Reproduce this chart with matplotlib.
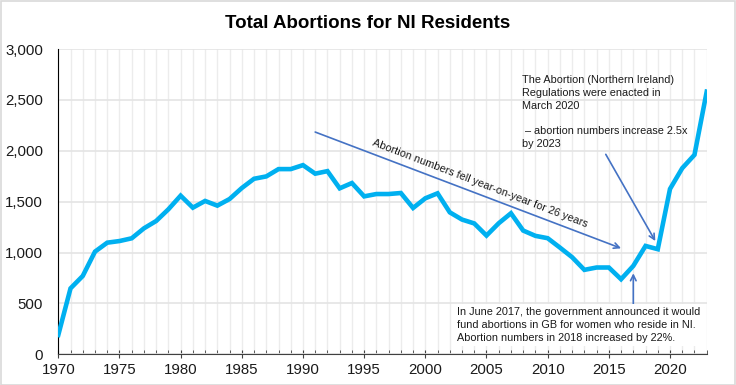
import numpy as np
import matplotlib.pyplot as plt
from matplotlib.ticker import MultipleLocator, FuncFormatter
from matplotlib.patches import Rectangle

plt.rcParams['font.family'] = ['Liberation Sans', 'DejaVu Sans']

# Data
years = list(range(1970, 2024))
abortions = [190, 648, 770, 1009, 1097, 1113, 1140, 1238, 1310, 1425,
             1559, 1441, 1507, 1461, 1526, 1634, 1725, 1748, 1820, 1820,
             1859, 1775, 1800, 1631, 1683, 1552, 1575, 1575, 1585, 1438,
             1533, 1582, 1395, 1324, 1286, 1167, 1288, 1386, 1216, 1164,
             1141, 1049, 954, 830, 853, 853, 738, 869, 1065, 1033,
             1625, 1829, 1960, 2581]

title = 'Total Abortions for NI Residents'
trend_text = 'Abortion numbers fell year-on-year for 26 years'
note_2017 = ('In June 2017, the government announced it would\n'
             'fund abortions in GB for women who reside in NI.\n'
             'Abortion numbers in 2018 increased by 22%.')
note_2020 = ('The Abortion (Northern Ireland)\n'
             'Regulations were enacted in\n'
             'March 2020\n\n'
             ' \u2013 abortion numbers increase 2.5x\n'
             'by 2023')

line_col = '#00B0F0'
arrow_col = '#4472C4'

fig = plt.figure(figsize=(7.36, 3.85), dpi=100)
ax = fig.add_axes([0.0792, 0.0797, 0.881, 0.793])

# Light border round the whole figure
fig.patches.append(Rectangle((0.001, 0.001), 0.997, 0.997, transform=fig.transFigure,
                             fill=False, edgecolor='#d9d9d9', linewidth=1.2))

ax.plot(years, abortions, color=line_col, linewidth=3.3, solid_joinstyle='miter', zorder=3)

ax.set_xlim(1970, 2023)
ax.set_ylim(0, 3000)
ax.xaxis.set_major_locator(MultipleLocator(5))
ax.xaxis.set_minor_locator(MultipleLocator(1))
ax.yaxis.set_major_locator(MultipleLocator(500))
ax.yaxis.set_major_formatter(FuncFormatter(lambda v, p: f'{int(v):,}'))

ax.grid(True, which='both', axis='x', color='#ececec', linewidth=1)
ax.grid(True, which='major', axis='y', color='#e4e4e4', linewidth=1.2)
ax.set_axisbelow(True)

for s in ['top', 'right']:
    ax.spines[s].set_visible(False)
ax.spines['left'].set_color('#000000')
ax.spines['bottom'].set_color('#404040')
ax.tick_params(axis='y', length=0, labelsize=10.8, pad=11, labelcolor='#1a1a1a')
ax.tick_params(axis='x', which='major', direction='inout', length=6, labelsize=10.8,
               color='#404040', pad=3, labelcolor='#1a1a1a')
ax.tick_params(axis='x', which='minor', direction='in', length=3, color='#404040')

fig.text(0.5, 0.94, title, ha='center', va='center', fontsize=13.5, fontweight='bold')

# Trend arrow and its label
ax.annotate('', xy=(2016.0, 1042), xytext=(1991, 2184),
            arrowprops=dict(arrowstyle='->', color=arrow_col, lw=1.2,
                            shrinkA=0, shrinkB=0))
ax.text(2004.45, 1680, trend_text, rotation=-21, rotation_mode='anchor',
        ha='center', va='center', fontsize=7.8, color='#1a1a1a')

# 2020 regulations arrow and note
ax.annotate('', xy=(2018.8, 1113), xytext=(2014.75, 1965),
            arrowprops=dict(arrowstyle='->', color=arrow_col, lw=1.2,
                            shrinkA=0, shrinkB=0))
ax.text(2007.94, 2745, note_2020, ha='left', va='top', fontsize=7.8,
        linespacing=1.36, color='#1a1a1a')

# 2017 arrow and note
ax.annotate('', xy=(2017.0, 796), xytext=(2017.0, 470),
            arrowprops=dict(arrowstyle='->', color=arrow_col, lw=1.2,
                            shrinkA=0, shrinkB=0))
ax.text(2002.6, 465, note_2017, ha='left', va='top', fontsize=7.8,
        linespacing=1.36, color='#1a1a1a', zorder=4,
        bbox=dict(facecolor='white', edgecolor='none', pad=2))

fig.savefig('out.png', dpi=100)
